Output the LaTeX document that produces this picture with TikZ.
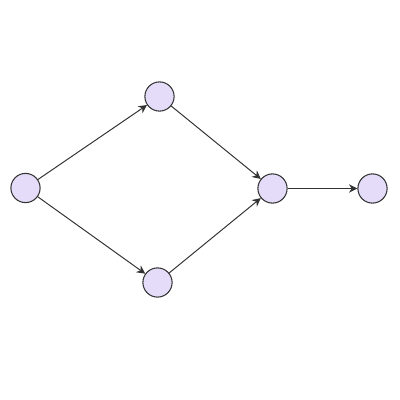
\documentclass[tikz,border=0pt]{standalone}
\usepackage{tikz}
\usetikzlibrary{arrows.meta}
\definecolor{nodefill}{HTML}{E4DCF9}
\definecolor{linegray}{HTML}{333333}

\begin{document}
\begin{tikzpicture}[x=0.025cm, y=-0.025cm,
    vertex/.style={circle, draw=linegray, fill=nodefill, line width=0.75pt,
      minimum size=0.73cm, inner sep=0pt},
    edge/.style={-{Stealth[length=6pt,width=6pt]}, draw=linegray, line width=0.7pt}]
    \useasboundingbox (0,0) rectangle (400,400);
    \node[vertex] (src) at (25.5,188) {};
    \node[vertex] (up) at (159.5,96.5) {};
    \node[vertex] (down) at (157.5,282.5) {};
    \node[vertex] (join) at (272.5,188.5) {};
    \node[vertex] (sink) at (372.5,188.5) {};
    \draw[edge] (src) -- (up);
    \draw[edge] (src) -- (down);
    \draw[edge] (up) -- (join);
    \draw[edge] (down) -- (join);
    \draw[edge] (join) -- (sink);
\end{tikzpicture}
\end{document}
